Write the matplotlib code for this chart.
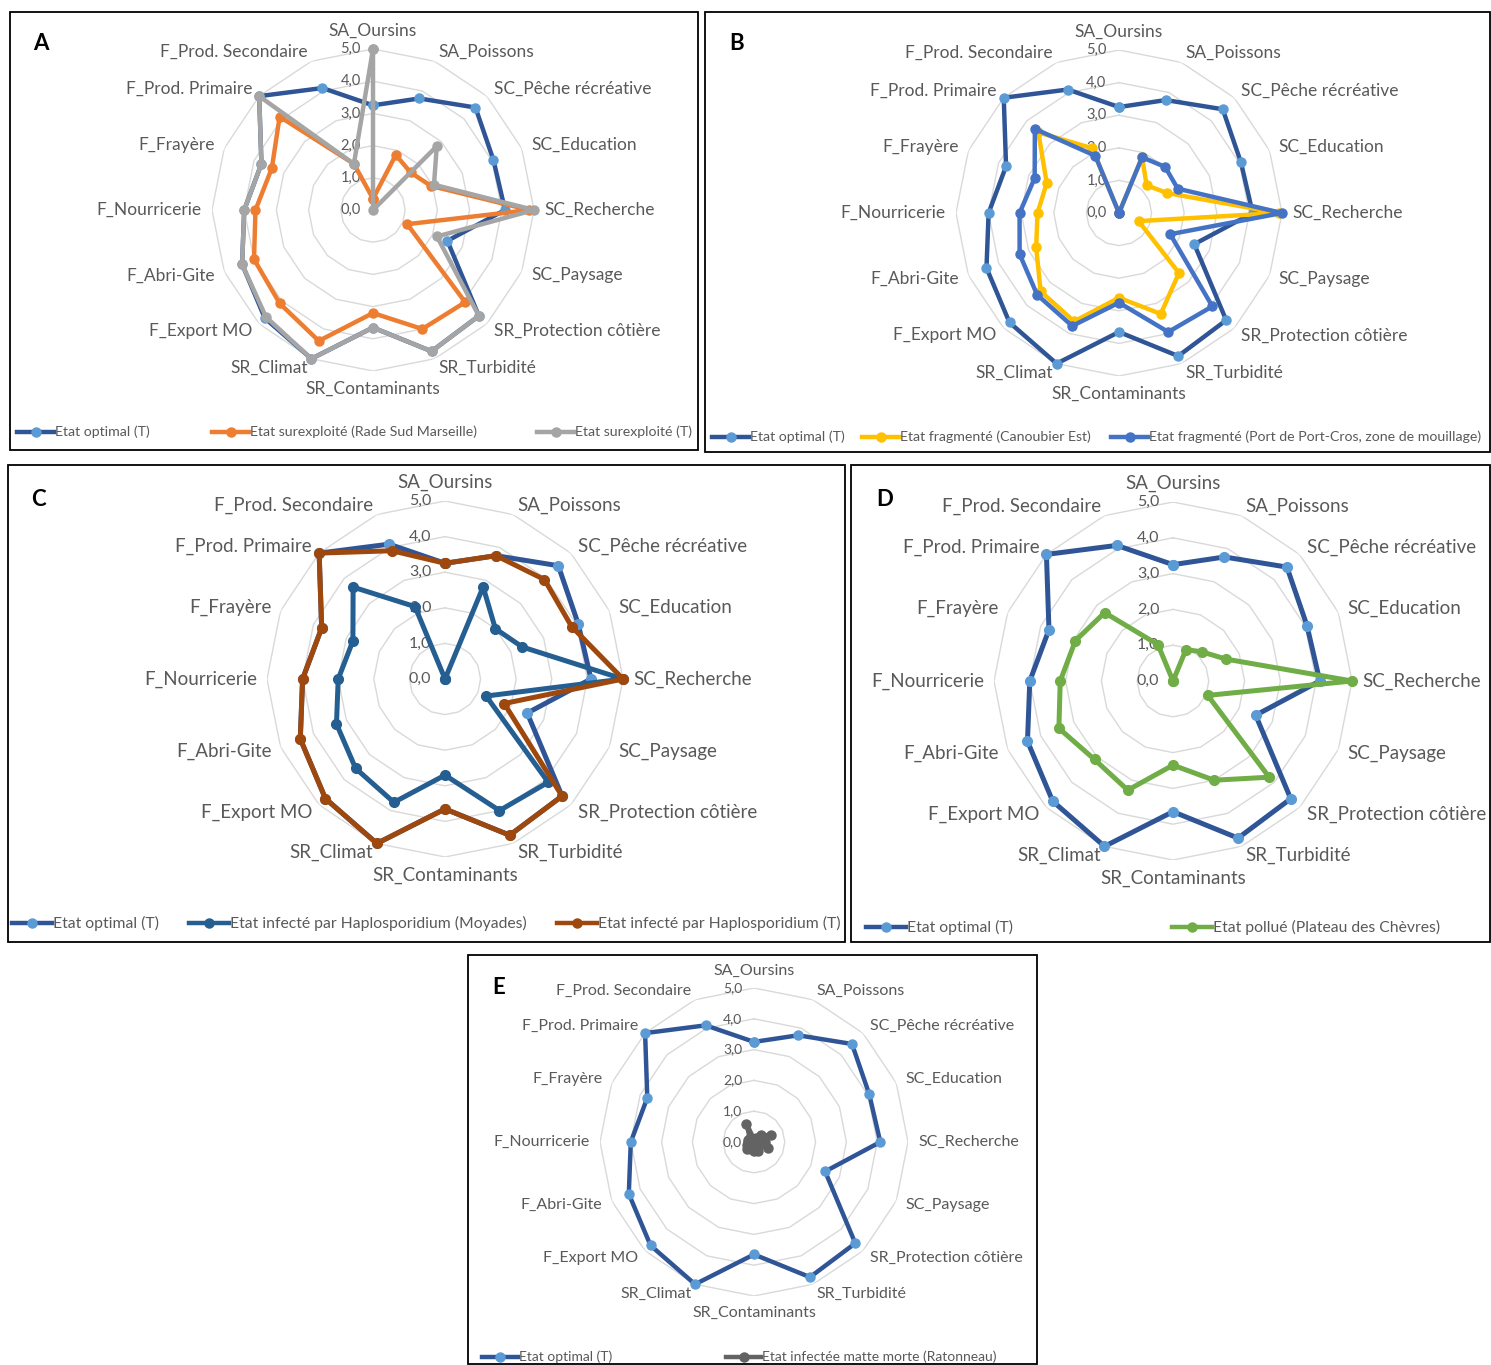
import numpy as np
import matplotlib
matplotlib.use("Agg")
import matplotlib.pyplot as plt
from matplotlib.lines import Line2D
from matplotlib.patches import Rectangle

plt.rcParams['font.family'] = ['Lato', 'DejaVu Sans']

W, H = 1491, 1365

categories = ["SA_Oursins", "SA_Poissons", "SC_Pêche récréative", "SC_Education",
              "SC_Recherche", "SC_Paysage", "SR_Protection côtière", "SR_Turbidité",
              "SR_Contaminants", "SR_Climat", "F_Export MO", "F_Abri-Gite",
              "F_Nourricerie", "F_Frayère", "F_Prod. Primaire", "F_Prod. Secondaire"]

optimal = [3.25, 3.75, 4.5, 4.05, 4.1, 2.5, 4.65, 4.75, 3.65, 5.0, 4.75, 4.4, 4.0, 3.75, 5.0, 4.1]

# A
rade_sud = [0.35, 1.85, 1.65, 1.95, 4.85, 1.15, 4.05, 4.0, 3.2, 4.4, 4.1, 4.0, 3.65, 3.4, 4.1, 1.55]
surexp_T = [5.0, 0.0, 2.8, 2.05, 5.0, 2.15, 4.65, 4.75, 3.65, 5.0, 4.7, 4.4, 4.0, 3.75, 5.0, 1.55]
# B
canoubier = [0.0, 1.85, 1.2, 1.6, 4.9, 0.65, 2.6, 3.35, 2.6, 3.6, 3.4, 2.75, 2.5, 2.4, 3.5, 2.15]
port_cros = [0.0, 1.85, 2.0, 1.95, 5.0, 1.7, 4.05, 3.95, 2.75, 3.75, 3.55, 3.3, 3.05, 2.8, 3.65, 1.9]
# C
moyades = [0.0, 2.8, 2.0, 2.35, 5.0, 1.25, 4.1, 4.0, 2.7, 3.75, 3.55, 3.3, 3.0, 2.8, 3.65, 2.2]
haplo_T = [3.25, 3.75, 3.95, 3.85, 5.0, 1.8, 4.65, 4.75, 3.65, 5.0, 4.75, 4.4, 4.0, 3.75, 5.0, 3.9]
# D
chevres = [0.0, 0.95, 1.15, 1.6, 5.0, 1.05, 3.8, 3.0, 2.35, 3.3, 3.1, 3.45, 3.15, 2.95, 2.7, 1.1]
# E
ratonneau = [0.1, 0.15, 0.3, 0.6, 0.35, 0.5, 0.2, 0.3, 0.3, 0.25, 0.3, 0.25, 0.2, 0.2, 0.2, 0.65]

TXT = "#595959"
GRID = "#D9D9D9"
OPT_LINE, OPT_MARK = "#2F5597", "#5B9BD5"

fig = plt.figure(figsize=(W / 100, H / 100), dpi=100)


def px(x, y):
    return x / W, 1 - y / H


def box(x0, y0, x1, y1):
    fig.add_artist(Rectangle(px(x0, y1), (x1 - x0) / W, (y1 - y0) / H,
                             transform=fig.transFigure, fill=False,
                             edgecolor="black", lw=1.3))


def radar(cx, cy, R, series, fs, tfs, lw, ms, letter, letter_xy):
    ax = fig.add_axes([(cx - R) / W, 1 - (cy + R) / H, 2 * R / W, 2 * R / H],
                      projection="polar")
    ax.set_theta_zero_location("N")
    ax.set_theta_direction(-1)
    ax.set_ylim(0, 5)
    ax.axis("off")
    n = len(categories)
    ang = np.linspace(0, 2 * np.pi, n, endpoint=False)
    ang_c = np.append(ang, ang[0])
    for r in range(1, 6):
        ax.plot(ang_c, [r] * (n + 1), color=GRID, lw=1.0, zorder=1)
    for r in range(0, 6):
        ax.annotate(f"{r},0", (0, r), xytext=(-R * 0.055, 0), textcoords="offset points",
                    ha="right", va="center", fontsize=tfs, color=TXT, zorder=2)
    for a, lab in zip(ang, categories):
        s, c = np.sin(a), np.cos(a)
        if abs(s) < 0.01:
            ha = "center"
            va = "bottom" if c > 0 else "top"
            pad = 10
        else:
            ha = "left" if s > 0 else "right"
            va = "center"
            pad = 10
        ax.annotate(lab, (a, 5), xytext=(s * pad * 0.72, c * pad * 0.72),
                    textcoords="offset points", ha=ha, va=va, fontsize=fs,
                    color=TXT, annotation_clip=False)
    for vals, lc, mc in series:
        v = np.append(vals, vals[0])
        ax.plot(ang_c, v, color=lc, lw=lw, marker="o", ms=ms, mfc=mc, mec=mc,
                zorder=3, clip_on=False)
    fig.text(*px(*letter_xy), letter, fontsize=16, fontweight="bold",
             ha="left", va="center", color="black")


def legend_entry(x, y, color, mcolor, label, fs, w=37):
    fx0, fy = px(x, y)
    fx1, _ = px(x + w, y)
    fig.add_artist(Line2D([fx0, (fx0 + fx1) / 2, fx1], [fy] * 3, transform=fig.transFigure,
                          color=color, lw=3.2, marker="o", ms=6.5, mfc=mcolor, mec=mcolor,
                          markevery=[1]))
    fig.text(*px(x + w + 1, y), label, fontsize=fs, color=TXT, ha="left", va="center")


# boxes
box(10, 12, 698, 450)
box(705, 12, 1490, 452)
box(8, 465, 845, 942)
box(851, 465, 1490, 942)
box(468, 955, 1037, 1364)

# A
radar(373, 210, 161,
      [(optimal, OPT_LINE, OPT_MARK), (rade_sud, "#ED7D31", "#ED7D31"),
       (surexp_T, "#A5A5A5", "#A5A5A5")],
      12.5, 10.5, 3.2, 6.5, "A", (33, 43))
legend_entry(17, 432, OPT_LINE, OPT_MARK, "Etat optimal (T)", 10.2)
legend_entry(212, 432, "#ED7D31", "#ED7D31", "Etat surexploité (Rade Sud Marseille)", 10.2)
legend_entry(537, 432, "#A5A5A5", "#A5A5A5", "Etat surexploité (T)", 10.2)

# B
radar(1119, 213, 163,
      [(optimal, OPT_LINE, OPT_MARK), (canoubier, "#FFC000", "#FFC000"),
       (port_cros, "#4472C4", "#4472C4")],
      12.5, 10.5, 3.2, 6.5, "B", (729, 43))
legend_entry(712, 437, OPT_LINE, OPT_MARK, "Etat optimal (T)", 10.2)
legend_entry(862, 437, "#FFC000", "#FFC000", "Etat fragmenté (Canoubier Est)", 10.2)
legend_entry(1111, 437, "#4472C4", "#4472C4", "Etat fragmenté (Port de Port-Cros, zone de mouillage)", 10.2)

# C
radar(445, 679, 178,
      [(optimal, OPT_LINE, OPT_MARK), (moyades, "#255E91", "#255E91"),
       (haplo_T, "#9E480E", "#9E480E")],
      13.5, 11.5, 3.6, 7, "C", (31, 500))
legend_entry(12, 923, OPT_LINE, OPT_MARK, "Etat optimal (T)", 11.3, 40)
legend_entry(189, 923, "#255E91", "#255E91", "Etat infecté par Haplosporidium (Moyades)", 11.3, 40)
legend_entry(557, 923, "#9E480E", "#9E480E", "Etat infecté par Haplosporidium (T)", 11.3, 40)

# D
radar(1173, 681, 179,
      [(optimal, OPT_LINE, OPT_MARK), (chevres, "#70AD47", "#70AD47")],
      13.5, 11.5, 3.6, 7, "D", (876, 500))
legend_entry(866, 927, OPT_LINE, OPT_MARK, "Etat optimal (T)", 11.3, 40)
legend_entry(1172, 927, "#70AD47", "#70AD47", "Etat pollué (Plateau des Chèvres)", 11.3, 40)

# E
radar(754, 1142, 154,
      [(optimal, OPT_LINE, OPT_MARK), (ratonneau, "#636363", "#636363")],
      11.5, 10, 3.2, 6.5, "E", (492, 988))
legend_entry(482, 1357, OPT_LINE, OPT_MARK, "Etat optimal (T)", 10, 36)
legend_entry(726, 1357, "#636363", "#636363", "Etat infectée matte morte (Ratonneau)", 10, 35)

fig.savefig("out.png", dpi=100, facecolor="white")
